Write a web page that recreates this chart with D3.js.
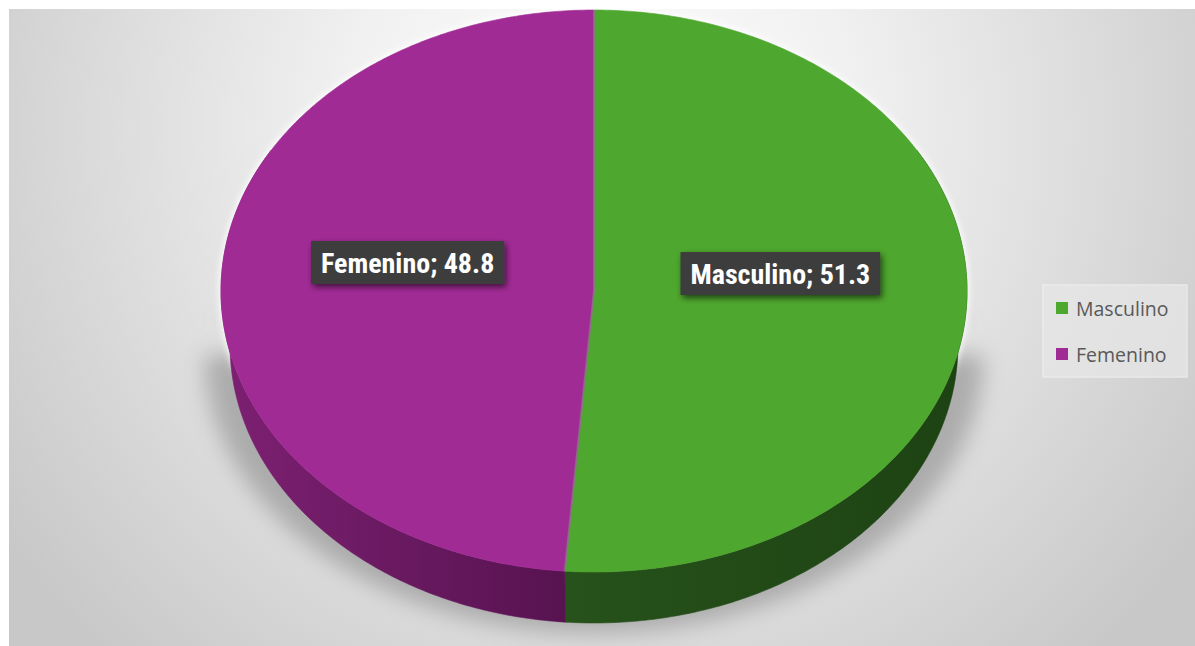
<!DOCTYPE html>
<html>
<head>
<meta charset="utf-8">
<script src="https://cdn.jsdelivr.net/npm/d3@7/dist/d3.min.js"></script>
<style>
  html, body { margin: 0; padding: 0; background: #ffffff; }
  svg { display: block; }
</style>
</head>
<body>
<svg id="chart" width="1195" height="646"></svg>
<script>
// Gender split of respondents
const categories = ["Masculino", "Femenino"];
const values = [51.3, 48.8];

const topColors  = ["#4ea72e", "#a12b95"];
const sideLight  = ["#27521b", "#7d2072"];
const sideDark   = ["#1d4213", "#571350"];

const W = 1195, H = 646;
const svg = d3.select("#chart");
const defs = svg.append("defs");

// ---- background panel ----
const bg = defs.append("radialGradient").attr("id", "bgGrad")
  .attr("gradientUnits", "userSpaceOnUse")
  .attr("cx", 600).attr("cy", 130).attr("r", 720);
bg.append("stop").attr("offset", 0).attr("stop-color", "#fefefe");
bg.append("stop").attr("offset", 0.35).attr("stop-color", "#f1f1f1");
bg.append("stop").attr("offset", 1).attr("stop-color", "#c8c8c8");

svg.append("rect").attr("x", 9).attr("y", 9)
  .attr("width", W - 9).attr("height", H - 9)
  .attr("fill", "url(#bgGrad)");

// ---- filters ----
const shadowBlur = defs.append("filter").attr("id", "softShadow")
  .attr("x", "-20%").attr("y", "-20%").attr("width", "140%").attr("height", "140%");
shadowBlur.append("feGaussianBlur").attr("stdDeviation", 11);

const glow = defs.append("filter").attr("id", "glow")
  .attr("x", "-10%").attr("y", "-10%").attr("width", "120%").attr("height", "120%");
glow.append("feGaussianBlur").attr("stdDeviation", 3);

const boxShadow = defs.append("filter").attr("id", "boxShadow")
  .attr("x", "-20%").attr("y", "-40%").attr("width", "140%").attr("height", "180%");
boxShadow.append("feGaussianBlur").attr("in", "SourceAlpha").attr("stdDeviation", 3).attr("result", "b");
boxShadow.append("feOffset").attr("in", "b").attr("dx", 2).attr("dy", 3).attr("result", "o");
boxShadow.append("feComponentTransfer").attr("in", "o").attr("result", "s")
  .append("feFuncA").attr("type", "linear").attr("slope", 0.6);
const bm = boxShadow.append("feMerge");
bm.append("feMergeNode").attr("in", "s");
bm.append("feMergeNode").attr("in", "SourceGraphic");

// ---- 3D pie geometry ----
const cx = 594, cy = 291, rx = 373, ry = 281;
const depth = 54, shrinkX = 9, shrinkY = 3;

// project an angle (clockwise from 12 o'clock) at level z (0 = top face, 1 = base)
function proj(theta, z) {
  const a = rx - z * shrinkX, b = ry - z * shrinkY, c = cy + z * depth;
  return [cx + a * Math.sin(theta), c - b * Math.cos(theta)];
}
function arcPoints(a0, a1, z) {
  const n = Math.max(2, Math.ceil(Math.abs(a1 - a0) / 0.01));
  return d3.range(n + 1).map(i => proj(a0 + (a1 - a0) * i / n, z));
}
const line = d3.line();

const pie = d3.pie().sort(null).value(d => d);
const arcs = pie(values);

// soft shadow under the base
const shadowPts = arcPoints(Math.PI / 2, Math.PI * 1.5, 1)
  .map(([x, y]) => [cx + (x - cx) * 1.07, y + 10]);
shadowPts.unshift([cx - rx * 1.05, cy + 30]);
shadowPts.unshift([cx + rx * 1.05, cy + 30]);
svg.append("path")
  .attr("d", line(shadowPts) + "Z")
  .attr("fill", "#8a8a8a").attr("opacity", 0.6)
  .attr("filter", "url(#softShadow)");

// light halo around the top face
svg.append("ellipse")
  .attr("cx", cx).attr("cy", cy).attr("rx", rx + 2).attr("ry", ry + 2)
  .attr("fill", "#ffffff").attr("opacity", 0.9)
  .attr("filter", "url(#glow)");

// side walls
const sideLayer = svg.append("g");
arcs.forEach((d, i) => {
  const g = defs.append("linearGradient").attr("id", "side" + i)
    .attr("gradientUnits", "userSpaceOnUse")
    .attr("x1", i === 0 ? proj(d.endAngle, 1)[0] : cx - rx).attr("y1", 0)
    .attr("x2", i === 0 ? cx + rx : proj(d.startAngle, 1)[0]).attr("y2", 0);
  g.append("stop").attr("offset", 0).attr("stop-color", sideLight[i]);
  g.append("stop").attr("offset", 1).attr("stop-color", sideDark[i]);
  const a0 = Math.max(d.startAngle, Math.PI / 3);
  const a1 = Math.min(d.endAngle, Math.PI * 5 / 3);
  if (a1 <= a0) return;
  const pts = arcPoints(a0, a1, 0).concat(arcPoints(a1, a0, 1));
  sideLayer.append("path")
    .attr("d", line(pts) + "Z")
    .attr("fill", `url(#side${i})`)
    .attr("stroke", `url(#side${i})`).attr("stroke-width", 0.6);
});

// top face slices
const faceLayer = svg.append("g");
arcs.forEach((d, i) => {
  const pts = [[cx, cy]].concat(arcPoints(d.startAngle, d.endAngle, 0));
  faceLayer.append("path")
    .attr("d", line(pts) + "Z")
    .attr("fill", topColors[i])
    .attr("stroke", topColors[i]).attr("stroke-width", 0.6);
});
// seam between slices
arcs.forEach(d => {
  faceLayer.append("path")
    .attr("d", line([[cx, cy], proj(d.startAngle, 0)]))
    .attr("stroke", "#8c7a88").attr("stroke-width", 2).attr("opacity", 0.7)
    .attr("fill", "none");
});

// ---- data labels ----
const unitArc = d3.arc().innerRadius(0).outerRadius(1);
const labelLayer = svg.append("g");
arcs.forEach((d, i) => {
  const c = unitArc.centroid(d);
  const x = cx + c[0] * rx;
  const y = cy + c[1] * ry - 22;
  const g = labelLayer.append("g");
  const t = g.append("text")
    .attr("x", x).attr("y", y)
    .attr("text-anchor", "middle").attr("dominant-baseline", "central")
    .attr("font-family", "'Liberation Sans Narrow', 'Arial Narrow', 'Roboto Condensed', 'DejaVu Sans Condensed', sans-serif")
    .attr("font-weight", "bold").attr("font-size", 28)
    .attr("fill", "#ffffff")
    .text(`${categories[i]}; ${values[i]}`);
  const bb = t.node().getBBox();
  g.insert("rect", "text")
    .attr("x", bb.x - 10).attr("y", bb.y - 6)
    .attr("width", bb.width + 20).attr("height", bb.height + 10)
    .attr("fill", "#3d3d3d")
    .attr("filter", "url(#boxShadow)");
});

// ---- legend ----
const legend = svg.append("g");
legend.append("rect")
  .attr("x", 1043).attr("y", 285).attr("width", 144).attr("height", 92)
  .attr("fill", "#e7e7e7").attr("opacity", 0.75)
  .attr("stroke", "#f1f1f1").attr("stroke-width", 1.5);
categories.forEach((name, i) => {
  const y = 308 + i * 46;
  legend.append("rect")
    .attr("x", 1056).attr("y", y - 6).attr("width", 12).attr("height", 12)
    .attr("fill", topColors[i]);
  legend.append("text")
    .attr("x", 1076).attr("y", y)
    .attr("dominant-baseline", "central")
    .attr("font-family", "'Open Sans', 'Liberation Sans', sans-serif")
    .attr("font-size", 19.5)
    .attr("fill", "#595959")
    .text(name);
});
</script>
</body>
</html>
